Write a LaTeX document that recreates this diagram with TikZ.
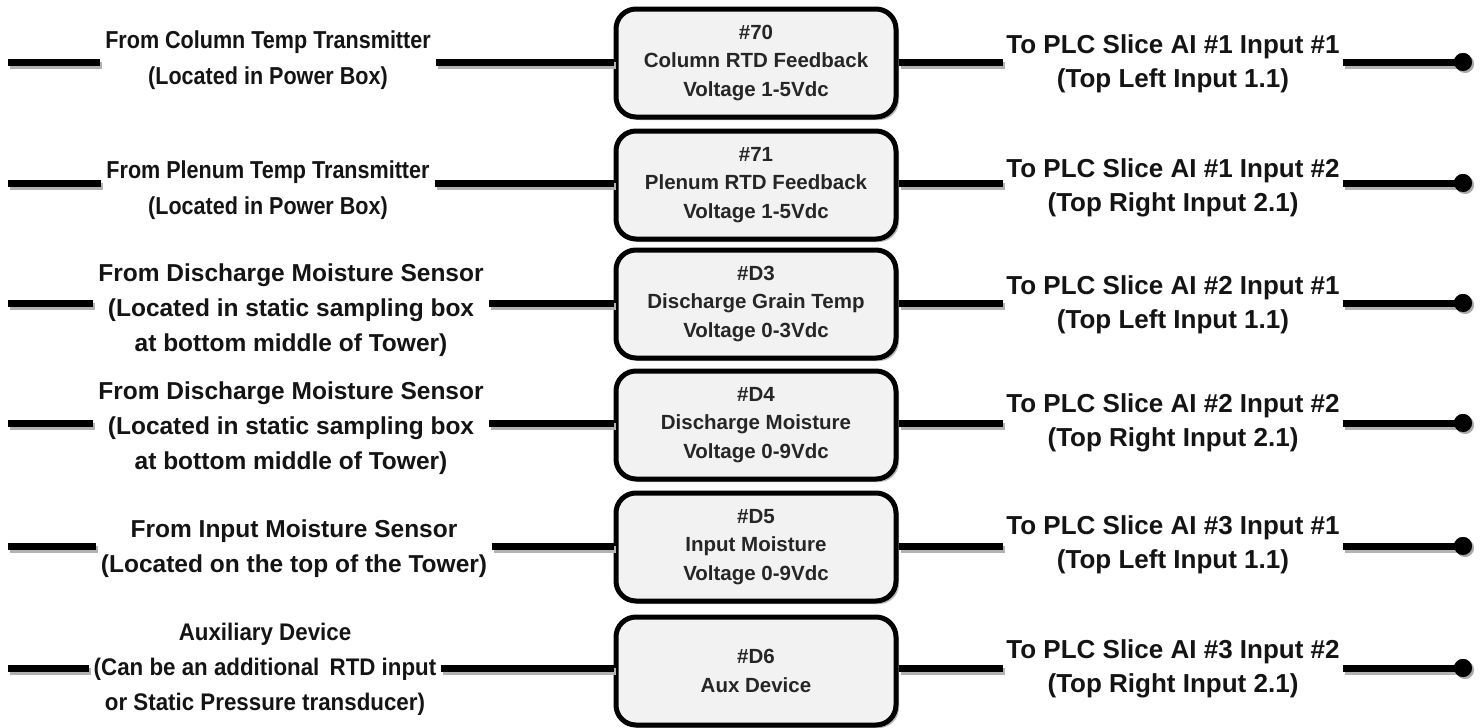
\documentclass[tikz,border=0pt]{standalone}
\usepackage{fontspec}
\setmainfont{Liberation Sans}
\newfontfamily\condA[FakeStretch=0.88]{Liberation Sans}
\newfontfamily\condB[FakeStretch=0.93]{Liberation Sans}
\usetikzlibrary{shadows}
\definecolor{boxfill}{HTML}{F2F2F2}
\begin{document}
\begin{tikzpicture}[x=1pt,y=-1pt,
  lblwide/.style={font=\fontsize{24.5}{35}\selectfont\bfseries, align=center, inner xsep=5pt, inner ysep=0pt, text=black!92},
  lbl/.style={lblwide, font=\condA\fontsize{24.5}{36}\selectfont\bfseries},
  lblmid/.style={lblwide, font=\condB\fontsize{24}{35}\selectfont\bfseries},
  rlbl/.style={font=\fontsize{26}{34}\selectfont\bfseries, align=center, inner xsep=3pt, inner ysep=0pt, text=black!92},
  dev/.style={draw=black, line width=5pt, rounded corners=20pt, fill=boxfill,
    minimum width=280pt, minimum height=108pt, align=center,
    font=\fontsize{20.5}{28.5}\selectfont\bfseries, text=black!85,
    drop shadow={shadow xshift=3pt, shadow yshift=-3pt, fill=black!45, opacity=.6}},
  wire/.style={line width=7pt, black,
    preaction={draw=black!30, line width=7pt, transform canvas={xshift=2pt, yshift=-3pt}}},
  enddot/.style={circle, fill=black, inner sep=0pt, minimum size=18pt,
    drop shadow={shadow xshift=2pt, shadow yshift=-2pt, fill=black!40, opacity=.6}}
]
\useasboundingbox (0,0) rectangle (1484,728);

% ---------- boxes ----------
\node[dev] (B1) at (756,63)  {\#70\\Column RTD Feedback\\Voltage 1-5Vdc};
\node[dev] (B2) at (756,185) {\#71\\Plenum RTD Feedback\\Voltage 1-5Vdc};
\node[dev] (B3) at (756,304) {\#D3\\Discharge Grain Temp\\Voltage 0-3Vdc};
\node[dev] (B4) at (756,425) {\#D4\\Discharge Moisture\\Voltage 0-9Vdc};
\node[dev] (B5) at (756,547) {\#D5\\Input Moisture\\Voltage 0-9Vdc};
\node[dev] (B6) at (756,671) {\#D6\\Aux Device};

% ---------- left labels ----------
\node[lbl] (L1) at (268,60)  {From Column Temp Transmitter\\(Located in Power Box)};
\node[lbl] (L2) at (268,190) {From Plenum Temp Transmitter\\(Located in Power Box)};
\node[lblwide] (L3) at (291,310) {From Discharge Moisture Sensor\\(Located in static sampling box\\at bottom middle of Tower)};
\node[lblwide] (L4) at (291,428) {From Discharge Moisture Sensor\\(Located in static sampling box\\at bottom middle of Tower)};
\node[lblwide] (L5) at (294,549) {From Input Moisture Sensor\\(Located on the top of the Tower)};
\node[lblmid] (L6) at (265,669) {Auxiliary Device\\(Can be an additional\ \,RTD input\\or Static Pressure transducer)};

% ---------- right labels ----------
\node[rlbl] (R1) at (1173,64)  {To PLC Slice AI \#1 Input \#1\\(Top Left Input 1.1)};
\node[rlbl] (R2) at (1173,188) {To PLC Slice AI \#1 Input \#2\\(Top Right Input 2.1)};
\node[rlbl] (R3) at (1173,305) {To PLC Slice AI \#2 Input \#1\\(Top Left Input 1.1)};
\node[rlbl] (R4) at (1173,423) {To PLC Slice AI \#2 Input \#2\\(Top Right Input 2.1)};
\node[rlbl] (R5) at (1173,545) {To PLC Slice AI \#3 Input \#1\\(Top Left Input 1.1)};
\node[rlbl] (R6) at (1173,669) {To PLC Slice AI \#3 Input \#2\\(Top Right Input 2.1)};

% ---------- free ends ----------
\coordinate (s1) at (8,62);
\coordinate (s2) at (8,183);
\coordinate (s3) at (8,303);
\coordinate (s4) at (8,423);
\coordinate (s5) at (8,546);
\coordinate (s6) at (8,668);
\node[enddot] (d1) at (1463,62)  {};
\node[enddot] (d2) at (1463,183) {};
\node[enddot] (d3) at (1463,303) {};
\node[enddot] (d4) at (1463,423) {};
\node[enddot] (d5) at (1463,546) {};
\node[enddot] (d6) at (1463,668) {};

% ---------- wires ----------
\foreach \i in {1,...,6}{
  \draw[wire] (s\i) -- (s\i -| L\i.west);
  \draw[wire] (L\i.east |- s\i) -- (B\i.west |- s\i);
  \draw[wire] (B\i.east |- s\i) -- (R\i.west |- s\i);
  \draw[wire] (R\i.east |- s\i) -- (d\i.center);
}
% dots on top of wires
\foreach \i in {1,...,6}{
  \node[enddot] at (d\i) {};
}
\end{tikzpicture}
\end{document}
